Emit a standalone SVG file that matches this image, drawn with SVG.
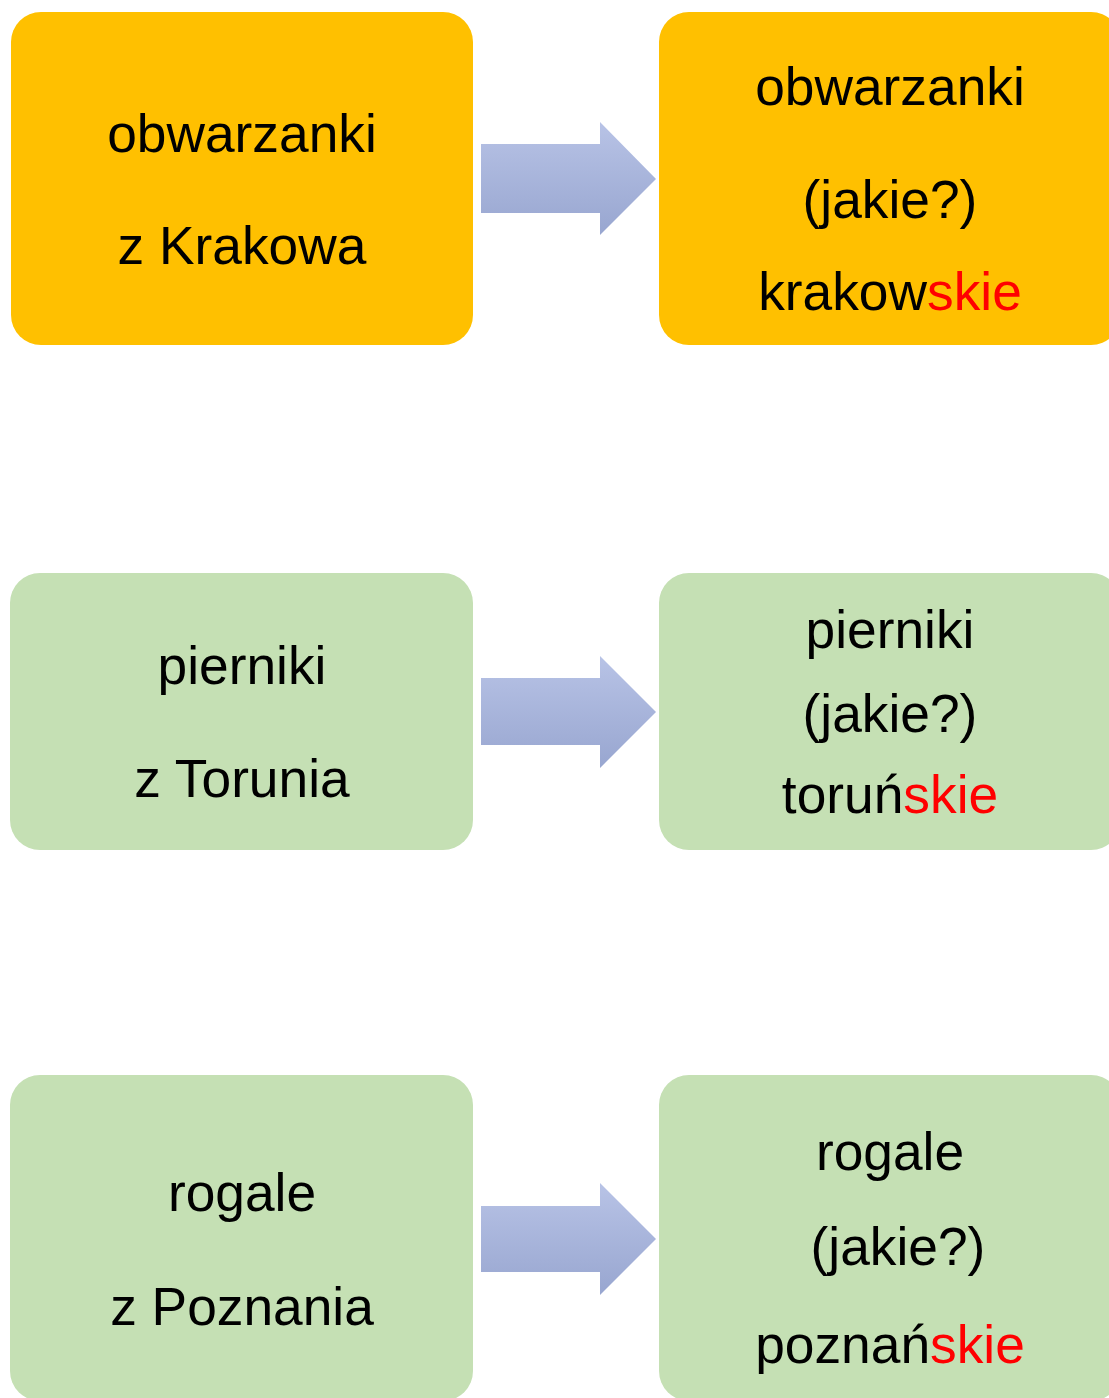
<svg xmlns="http://www.w3.org/2000/svg" width="1109" height="1398" viewBox="0 0 1109 1398">
<style>
.box{stroke:none}
.orange{fill:#FFC000}
.green{fill:#C5E0B4}
text{font-family:"Liberation Sans",Arial,sans-serif;font-size:53.3px;fill:#000;text-anchor:middle}
.red{fill:#FF0000}
.arrow{fill:url(#ag)}
</style>
<defs>
<linearGradient id="ag" x1="0" y1="0" x2="0" y2="1">
<stop offset="0" stop-color="#B8C3E6"/>
<stop offset="1" stop-color="#98A6D0"/>
</linearGradient>
</defs>
<rect width="1109" height="1398" fill="#FFFFFF"/>
<g id="connectors">
<polygon class="arrow" points="481,144 600,144 600,122 656,179 600,235 600,213 481,213"/>
<polygon class="arrow" points="481,678 600,678 600,656 656,712 600,768 600,745 481,745"/>
<polygon class="arrow" points="481,1206 600,1206 600,1183 656,1239 600,1295 600,1272 481,1272"/>
</g>
<g id="n1">
<rect class="box orange" x="11" y="12" width="462" height="333" rx="30"/>
<text x="242" y="152">obwarzanki</text>
<text x="242" y="264">z Krakowa</text>
</g>
<g id="n2">
<rect class="box orange" x="659" y="12" width="462" height="333" rx="30"/>
<text x="890" y="105">obwarzanki</text>
<text x="890" y="218">(jakie?)</text>
<text x="890" y="310">krakow<tspan class="red">skie</tspan></text>
</g>
<g id="n3">
<rect class="box green" x="10" y="573" width="463" height="277" rx="30"/>
<text x="242" y="684">pierniki</text>
<text x="242" y="797">z Torunia</text>
</g>
<g id="n4">
<rect class="box green" x="659" y="573" width="462" height="277" rx="30"/>
<text x="890" y="648">pierniki</text>
<text x="890" y="732">(jakie?)</text>
<text x="890" y="813">toruń<tspan class="red">skie</tspan></text>
</g>
<g id="n5">
<rect class="box green" x="10" y="1075" width="463" height="326" rx="30"/>
<text x="242" y="1211">rogale</text>
<text x="242" y="1325">z Poznania</text>
</g>
<g id="n6">
<rect class="box green" x="659" y="1075" width="462" height="326" rx="30"/>
<text x="890" y="1170">rogale</text>
<text x="898" y="1265">(jakie?)</text>
<text x="890" y="1363">poznań<tspan class="red">skie</tspan></text>
</g>
</svg>
